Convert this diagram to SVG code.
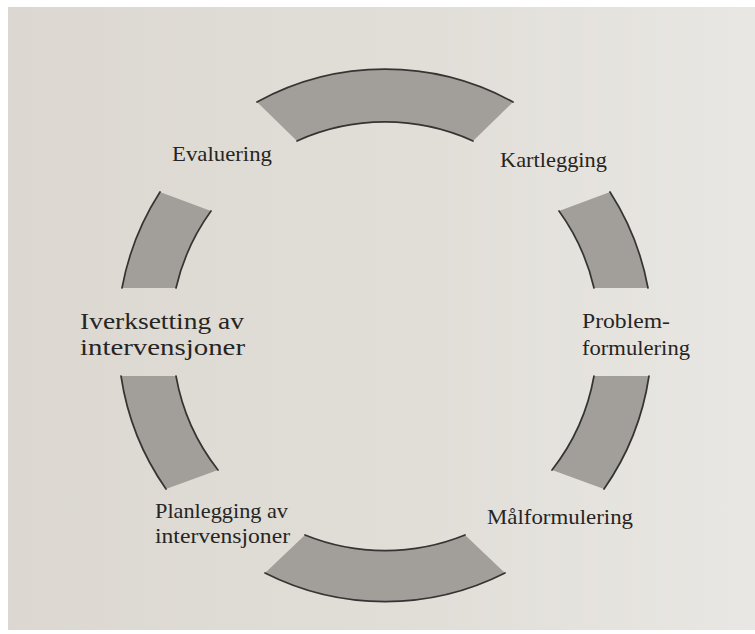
<svg xmlns="http://www.w3.org/2000/svg" width="755" height="634" viewBox="0 0 755 634">
  <style>
    .band { fill: #a29f9b; stroke: none; }
    .edge { fill: none; stroke: #353432; stroke-width: 1.7; stroke-linecap: round; }
    .label { font-family: "Liberation Serif", "DejaVu Serif", serif; font-size: 22px; fill: #262523; }
    .wide { font-size: 24px; }
  </style>
  <defs>
    <linearGradient id="paper" x1="0" y1="0" x2="1" y2="0">
      <stop offset="0" stop-color="#dcd8d1"/>
      <stop offset="0.55" stop-color="#e1ded8"/>
      <stop offset="1" stop-color="#e9e7e3"/>
    </linearGradient>
  </defs>

  <!-- page -->
  <rect width="755" height="634" fill="#ffffff"/>
  <rect x="8" y="7" width="747" height="623" fill="url(#paper)"/>

  <!-- ring segments between the phases -->
  <g id="connectors">
    <g id="seg-top">
      <path class="band" d="M257,102 A266,266 0 0 1 513,102 L473,141 A213,213 0 0 0 297,141 Z"/>
      <path class="edge" d="M257,102 A266,266 0 0 1 513,102"/>
      <path class="edge" d="M297,141 A213,213 0 0 1 473,141"/>
    </g>
    <g id="seg-right-upper">
      <path class="band" d="M610,192 A266,266 0 0 1 648,288 L594,288 A213,213 0 0 0 559,211 Z"/>
      <path class="edge" d="M610,192 A266,266 0 0 1 648,288"/>
      <path class="edge" d="M559,211 A213,213 0 0 1 594,288"/>
    </g>
    <g id="seg-right-lower">
      <path class="band" d="M649,376 A266,266 0 0 1 604,489 L552,470 A213,213 0 0 0 594,376 Z"/>
      <path class="edge" d="M649,376 A266,266 0 0 1 604,489"/>
      <path class="edge" d="M594,376 A213,213 0 0 1 552,470"/>
    </g>
    <g id="seg-bottom">
      <path class="band" d="M505,573 A266,266 0 0 1 265,573 L305,535 A213,213 0 0 0 465,535 Z"/>
      <path class="edge" d="M505,573 A266,266 0 0 1 265,573"/>
      <path class="edge" d="M465,535 A213,213 0 0 1 305,535"/>
    </g>
    <g id="seg-left-lower">
      <path class="band" d="M166,489 A266,266 0 0 1 121,376 L176,376 A213,213 0 0 0 218,470 Z"/>
      <path class="edge" d="M166,489 A266,266 0 0 1 121,376"/>
      <path class="edge" d="M218,470 A213,213 0 0 1 176,376"/>
    </g>
    <g id="seg-left-upper">
      <path class="band" d="M122,288 A266,266 0 0 1 160,192 L211,211 A213,213 0 0 0 176,288 Z"/>
      <path class="edge" d="M122,288 A266,266 0 0 1 160,192"/>
      <path class="edge" d="M176,288 A213,213 0 0 1 211,211"/>
    </g>
  </g>

  <!-- phases -->
  <g id="evaluering">
    <text class="label" x="172" y="161" textLength="100" lengthAdjust="spacingAndGlyphs">Evaluering</text>
  </g>
  <g id="kartlegging">
    <text class="label" x="500" y="167" textLength="107" lengthAdjust="spacingAndGlyphs">Kartlegging</text>
  </g>
  <g id="problemformulering">
    <text class="label" x="582" y="328" textLength="88" lengthAdjust="spacingAndGlyphs">Problem-</text>
    <text class="label" x="582" y="355" textLength="108" lengthAdjust="spacingAndGlyphs">formulering</text>
  </g>
  <g id="maalformulering">
    <text class="label" x="487" y="524" textLength="146" lengthAdjust="spacingAndGlyphs">Målformulering</text>
  </g>
  <g id="planlegging">
    <text class="label" x="155" y="518" textLength="133" lengthAdjust="spacingAndGlyphs">Planlegging av</text>
    <text class="label" x="155" y="543" textLength="135" lengthAdjust="spacingAndGlyphs">intervensjoner</text>
  </g>
  <g id="iverksetting">
    <text class="label wide" x="80" y="329" textLength="164" lengthAdjust="spacingAndGlyphs">Iverksetting av</text>
    <text class="label wide" x="80" y="355" textLength="165" lengthAdjust="spacingAndGlyphs">intervensjoner</text>
  </g>
</svg>
